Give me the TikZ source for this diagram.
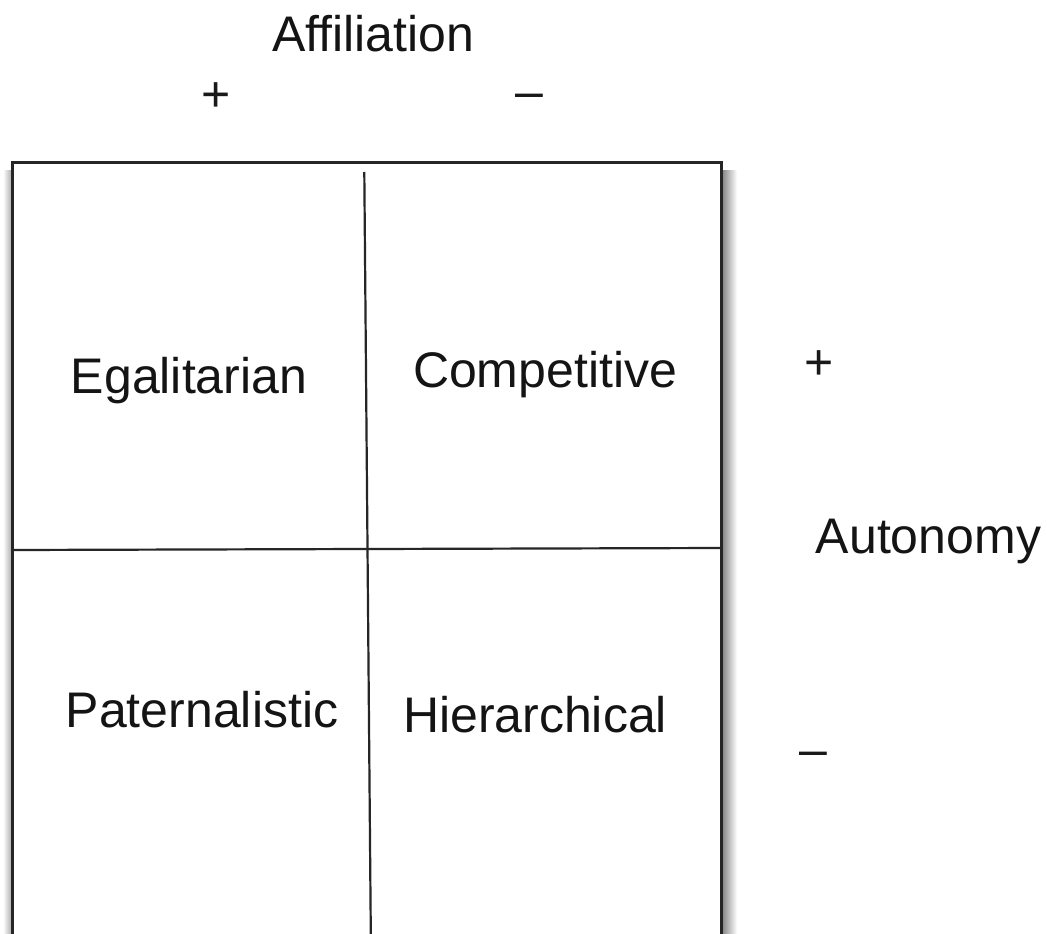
\documentclass[tikz,border=0pt]{standalone}
\usepackage{fontspec}
\setmainfont{Liberation Sans}
\begin{document}
\begin{tikzpicture}[x=1pt,y=-1pt,
  lbl/.style={anchor=base,inner sep=0pt,font=\fontsize{50}{60}\selectfont,text=black!92},
  sgn/.style={anchor=center,inner sep=0pt,font=\fontsize{50}{60}\selectfont,text=black!90},
  frame/.style={line width=2.6pt,draw=black!85},
  divider/.style={line width=2.2pt,draw=black!85}]
\useasboundingbox[fill=white] (0,0) rectangle (1047,934);
% soft shadow
\shade[left color=black!45,right color=white] (723,170) rectangle (737,934);
\shade[left color=white,right color=black!30] (3,170) rectangle (11,934);
% frame
\draw[frame] (12.5,934) -- (12.5,162.5) -- (721.5,162.5) -- (721.5,934);
\coordinate (vt) at (364.3,172);
\coordinate (vb) at (370.8,934);
\coordinate (hl) at (12.5,550);
\coordinate (hr) at (721.5,548);
\draw[divider] (vt) -- (vb);
\draw[divider] (hl) -- (hr);
% labels
\node[lbl] (aff) at (373,52) {Affiliation};
\node[sgn] (affp) at (216,97) {+};
\node[sgn] (affm) at (529,101) {–};
\node[lbl] (ega) at (189,393) {Egalitarian};
\node[lbl] (com) at (545,387) {Competitive};
\node[lbl] (pat) at (202,727) {Paternalistic};
\node[lbl] (hie) at (535,732) {Hierarchical};
\node[sgn] (autp) at (819,365) {+};
\node[lbl] (aut) at (928.5,553) {Autonomy};
\node[sgn] (autm) at (813,759) {–};
\end{tikzpicture}
\end{document}
